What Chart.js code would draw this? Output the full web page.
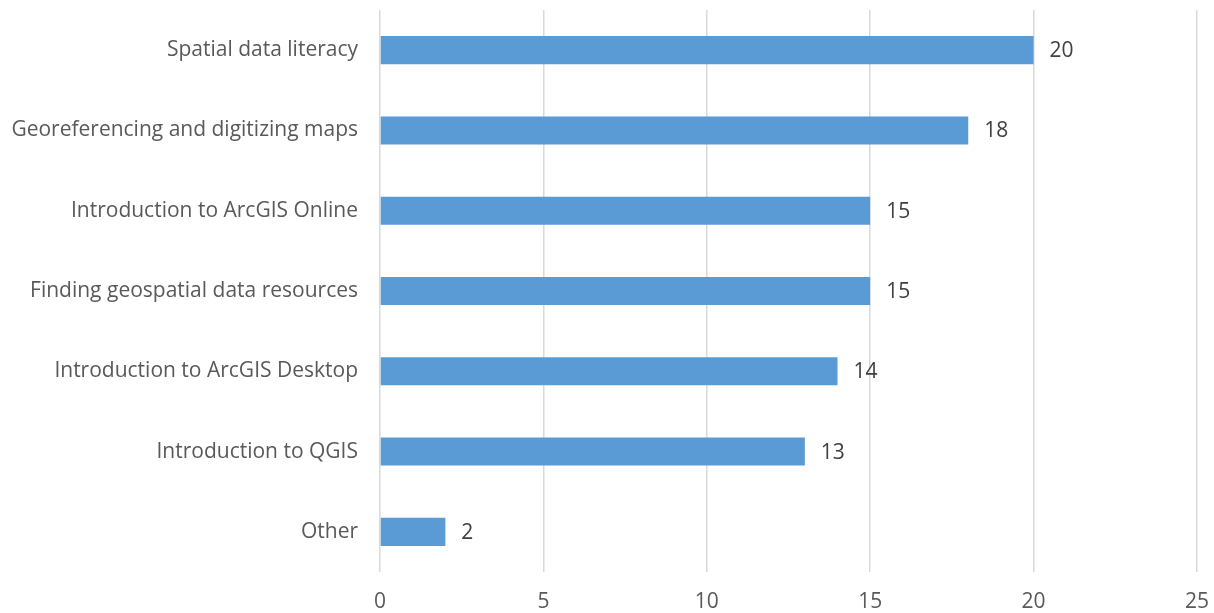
<!DOCTYPE html>
<html>
<head>
<meta charset="utf-8">
<script src="https://cdn.jsdelivr.net/npm/chart.js@4"></script>
<style>
  html, body { margin: 0; padding: 0; background: #fff; }
  #wrap { width: 1214px; height: 613px; }
</style>
</head>
<body>
<div id="wrap"><canvas id="bar-chart"></canvas></div>
<script>
var categories = [
  "Spatial data literacy",
  "Georeferencing and digitizing maps",
  "Introduction to ArcGIS Online",
  "Finding geospatial data resources",
  "Introduction to ArcGIS Desktop",
  "Introduction to QGIS",
  "Other",
];
var counts = [20, 18, 15, 15, 14, 13, 2];
var xTicks = [0, 5, 10, 15, 20, 25];

var fontName = "'Open Sans', sans-serif";
var fontSize = 21;

// value labels at the end of each bar
var barLabels = {
  id: "barLabels",
  afterDatasetsDraw: function (chart) {
    var ctx = chart.ctx;
    var meta = chart.getDatasetMeta(0);
    ctx.save();
    ctx.font = fontSize + "px " + fontName;
    ctx.fillStyle = "#404040";
    ctx.textAlign = "left";
    ctx.textBaseline = "middle";
    meta.data.forEach(function (bar, i) {
      ctx.fillText(counts[i], bar.x + 16, bar.y + 1);
    });
    ctx.restore();
  },
};

new Chart(document.getElementById("bar-chart"), {
  type: "bar",
  data: {
    labels: categories,
    datasets: [
      {
        data: counts,
        backgroundColor: "#5B9BD5",
        borderWidth: 0,
        barPercentage: 0.35,
        categoryPercentage: 1,
      },
    ],
  },
  options: {
    indexAxis: "y",
    responsive: true,
    maintainAspectRatio: false,
    animation: false,
    layout: { padding: { top: 10, right: 17, left: 0, bottom: 0 } },
    plugins: {
      legend: { display: false },
      tooltip: { enabled: false },
    },
    scales: {
      x: {
        min: 0,
        max: 25,
        afterBuildTicks: function (axis) {
          axis.ticks = xTicks.map(function (v) { return { value: v }; });
        },
        afterFit: function (axis) {
          axis.height = 41;
          axis.paddingLeft = 0;
          axis.paddingRight = 0;
        },
        grid: { color: "#d9d9d9", lineWidth: 1.5, drawTicks: false },
        border: { display: false },
        ticks: {
          padding: 17,
          color: "#595959",
          font: { family: fontName, size: fontSize },
        },
      },
      y: {
        afterFit: function (axis) {
          axis.width = 380;
          axis.paddingTop = 0;
          axis.paddingBottom = 0;
        },
        grid: { display: false, drawTicks: false },
        border: { display: false },
        ticks: {
          padding: 22,
          color: "#595959",
          font: { family: fontName, size: fontSize },
        },
      },
    },
  },
  plugins: [barLabels],
});
</script>
</body>
</html>
